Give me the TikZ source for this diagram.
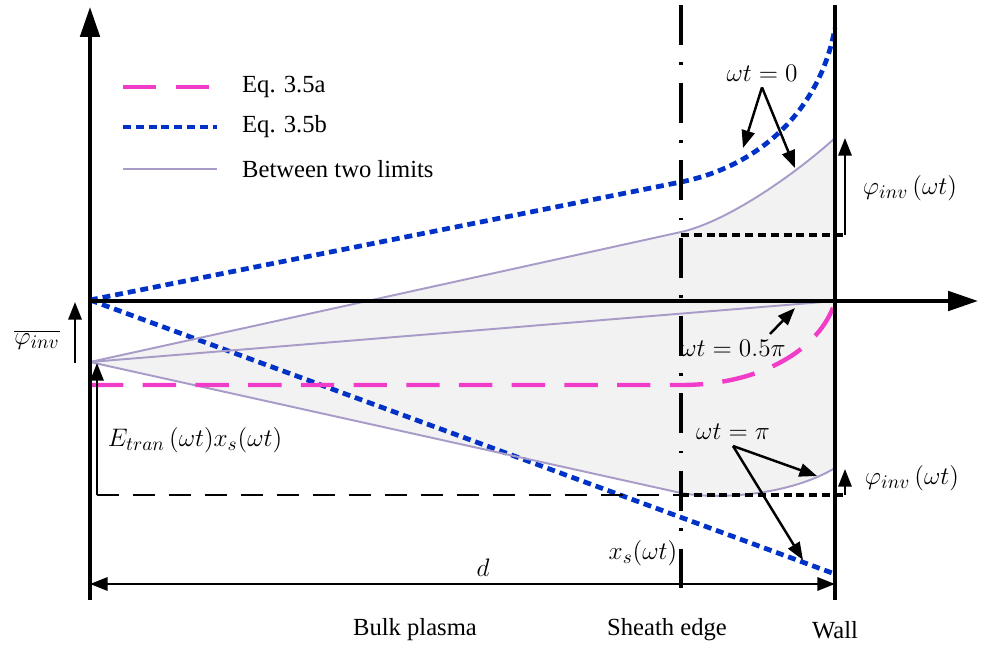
\documentclass[tikz,border=0pt]{standalone}
\usepackage{fontspec}
\setmainfont{Liberation Serif}
\usetikzlibrary{arrows.meta}
\definecolor{eqpink}{RGB}{240,60,200}
\definecolor{eqblue}{RGB}{0,50,200}
\definecolor{limpurple}{RGB}{168,155,200}
\definecolor{plasmagray}{RGB}{242,242,242}

\begin{document}
\begin{tikzpicture}[x=0.02cm, y=-0.02cm, font=\fontsize{14}{16}\selectfont,
    >={Triangle[length=10pt,width=7.5pt]},
    axisline/.style={line width=2.2pt, -{Triangle[length=17pt,width=11pt]}},
    eqa/.style={eqpink, line width=2.5pt, dash pattern=on 19pt off 11pt},
    eqb/.style={eqblue, line width=2.7pt, dash pattern=on 4.5pt off 2.8pt},
    lim/.style={limpurple, line width=1.1pt},
    pointer/.style={line width=1.4pt, ->},
    fineline/.style={line width=2pt, dash pattern=on 4.5pt off 2.8pt},
    wideline/.style={line width=1.4pt, dash pattern=on 12.5pt off 8pt},
    mathlabel/.style={font=\fontsize{15}{17}\selectfont}]
    \useasboundingbox (0,0) rectangle (981,646);

    % zona tra i due limiti
    \fill[plasmagray] (90,362) -- (681,232) .. controls (730,221) and (800,170) .. (835,138)
        -- (835,468) .. controls (790,495) and (720,500) .. (681,493) -- cycle;

    % Eq. 3.5b
    \draw[eqb] (90,300) -- (681,182) .. controls (760,166) and (820,110) .. (835,28);
    \draw[eqb] (90,300) -- (835,574);

    % curve tra i due limiti
    \draw[lim] (90,362) -- (681,232) .. controls (730,221) and (800,170) .. (835,138);
    \draw[lim] (90,362) -- (835,301);
    \draw[lim] (90,362) -- (681,493) .. controls (720,500) and (790,495) .. (835,468);

    % Eq. 3.5a
    \draw[eqa] (90,385) -- (681,385) .. controls (760,385) and (820,350) .. (835,302);

    % assi
    \draw[axisline] (90,600) -- (90,7);
    \draw[axisline] (90,301) -- (978,301);

    % bordo della guaina e parete
    \draw[line width=2.2pt, dash pattern=on 22.7pt off 10pt on 1.5pt off 10pt] (681,5) -- (681,600);
    \draw[line width=2.2pt] (835,5) -- (835,600);

    % livelli del potenziale
    \draw[wideline] (97,495) -- (681,495);
    \draw[fineline] (681,495) -- (845,495);
    \draw[fineline] (681,235) -- (845,235);
    \draw[pointer] (845,235) -- (845,138);
    \draw[pointer] (845,495) -- (845,469);
    \draw[pointer] (97,495) -- (97,363);
    \draw[pointer] (75,363) -- (75,302);

    % quote
    \node[mathlabel] (phibar) at (37,340) {$\overline{\varphi_{inv}}$};
    \node[mathlabel] (etran) at (195,440) {$E_{tran}\,(\omega t)x_s(\omega t)$};
    \node[mathlabel] (phiup) at (910,188) {$\varphi_{inv}\,(\omega t)$};
    \node[mathlabel] (philow) at (912,478) {$\varphi_{inv}\,(\omega t)$};
    \node[mathlabel] (xs) at (643,553) {$x_s(\omega t)$};
    \node (dlab) at (483,568) {$d$};
    \draw[line width=1.4pt, <->] (90,584) -- (835,584);

    % fasi
    \node (wt0) at (762,73) {$\omega t = 0$};
    \coordinate (tipa) at (743,148);
    \coordinate (tipb) at (795,168);
    \draw[pointer] (wt0.south) -- (tipa);
    \draw[pointer] (wt0.south) -- (tipb);

    \node (wthalf) at (733,348) {$\omega t = 0.5\pi$};
    \coordinate (starth) at (770,334);
    \coordinate (tiph) at (795,308);
    \draw[pointer] (starth) -- (tiph);

    \node (wtpi) at (733,432) {$\omega t = \pi$};
    \coordinate (tipc) at (817,476);
    \coordinate (tipd) at (803,560);
    \draw[pointer] (wtpi.south) -- (tipc);
    \draw[pointer] (wtpi.south) -- (tipd);

    % legenda
    \draw[eqa] (123,87) -- (217,87);
    \draw[eqb] (123,127) -- (217,127);
    \draw[lim, line width=1.6pt] (123,169) -- (217,169);
    \node[anchor=west] (lega) at (236,87) {Eq. 3.5a};
    \node[anchor=west] (legb) at (236,127) {Eq. 3.5b};
    \node[anchor=west] (legc) at (236,169) {Between two limits};

    % zone
    \node (bulk) at (415,630) {Bulk plasma};
    \node (sheath) at (667,630) {Sheath edge};
    \node (wall) at (835,630) {Wall};
\end{tikzpicture}
\end{document}
